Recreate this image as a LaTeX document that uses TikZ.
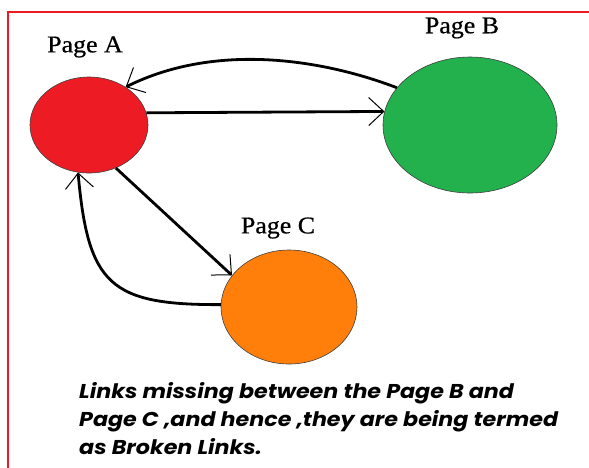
\documentclass[tikz,border=0pt]{standalone}
\usepackage{fontspec}
\setmainfont{Liberation Serif}
\newfontfamily\capfont[FakeStretch=1.11]{Poppins}
\newfontfamily\lblfont[FakeStretch=1.08,FakeBold=0.6]{Liberation Serif}
\usetikzlibrary{shapes.geometric,arrows.meta}
\definecolor{pred}{HTML}{ED1C24}
\definecolor{pgreen}{HTML}{22B14C}
\definecolor{porange}{HTML}{FF7F0A}
\tikzset{
  page/.style={ellipse, draw=black!75, line width=0.6pt, inner sep=0pt},
  lbl/.style={font=\lblfont\fontsize{24}{24}\selectfont, inner sep=0pt},
  link/.style={line width=2.8pt, -{Straight Barb[length=15pt,width=28pt,line width=1pt]}},
}
\begin{document}
\begin{tikzpicture}[x=1pt,y=-1pt]
\useasboundingbox (0,0) rectangle (589,467);
\fill[white] (0,0) rectangle (589,467);
\draw[pred, line width=2pt] (8,12) rectangle (620,500);
\node[page, fill=pred, minimum width=118pt, minimum height=96pt] (A) at (89,125) {};
\node[page, fill=pgreen, minimum width=174pt, minimum height=136pt] (B) at (470,125) {};
\node[page, fill=porange, minimum width=136pt, minimum height=114pt] (C) at (289,307) {};
\node[lbl] (la) at (85,47) {Page A};
\node[lbl] (lb) at (462,28) {Page B};
\node[lbl] (lc) at (278,228) {Page C};
\draw[link] (A.12) -- (B.171);
\draw[link] (B.153) .. controls (330,62) and (220,40) .. (A.46);
\draw[link] (A.-58) -- (C.151);
\draw[link] (C.178) .. controls (110,305) and (88,285) .. (A.257);
\node[anchor=north west, align=left, inner sep=0pt,
      font=\capfont\bfseries\itshape\fontsize{20}{28}\selectfont] (cap) at (79,382)
  {Links missing between the Page B and\\Page C ,and hence ,they are being termed\\as Broken Links.};
\end{tikzpicture}
\end{document}
